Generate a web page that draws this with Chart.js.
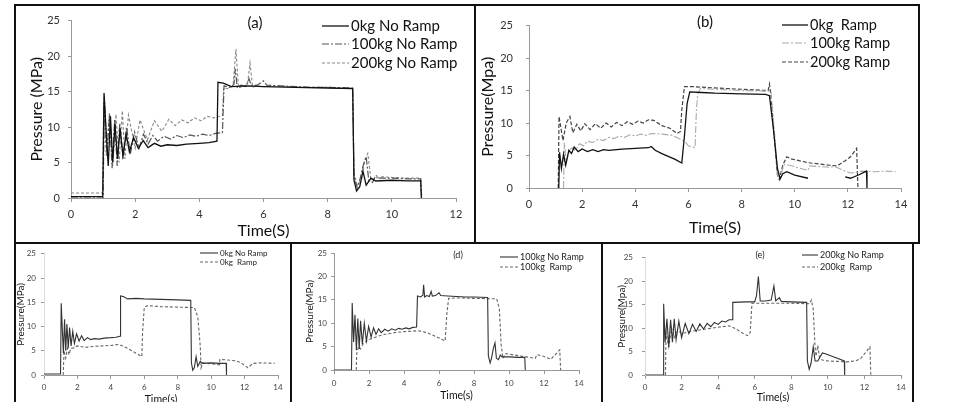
<!DOCTYPE html>
<html><head><meta charset="utf-8">
<script src="https://cdn.jsdelivr.net/npm/chart.js@4"></script>
<style>
html,body{margin:0;padding:0;background:#fff}
body{width:979px;height:402px;overflow:hidden;position:relative;font-family:Lato,sans-serif}
.panel{position:absolute;border:2px solid #111;box-sizing:border-box;overflow:hidden}
.panel canvas{position:absolute;left:0;top:0}
</style></head><body>
<div class="panel" style="left:14px;top:4px;width:462px;height:240px"><canvas id="ca"></canvas></div>
<div class="panel" style="left:474px;top:4px;width:446px;height:240px"><canvas id="cb"></canvas></div>
<div class="panel" style="left:14px;top:242px;width:278px;height:172px"><canvas id="cc"></canvas></div>
<div class="panel" style="left:290px;top:242px;width:313px;height:172px"><canvas id="cd"></canvas></div>
<div class="panel" style="left:601px;top:242px;width:313px;height:172px"><canvas id="ce"></canvas></div>
<script>
// ---------------- DATA (time s, pressure MPa) ----------------
const xTicksA = [0, 2, 4, 6, 8, 10, 12];
const xTicks14 = [0, 2, 4, 6, 8, 10, 12, 14];
const yTicks = [0, 5, 10, 15, 20, 25];

const legendA = ['0kg No Ramp', '100kg No Ramp', '200kg No Ramp'];
const legendB = ['0kg  Ramp', '100kg Ramp', '200kg Ramp'];
const legendC = ['0kg No Ramp', '0kg  Ramp'];
const legendD = ['100kg No Ramp', '100kg  Ramp'];
const legendE = ['200kg No Ramp', '200kg  Ramp'];

const a0kgNoRamp = [[0,0.2],[0.99,0.2],[1.03,14.8],[1.1,9],[1.16,4.5],[1.23,11.5],[1.3,5],[1.37,10.5],[1.45,5.5],[1.53,9.8],[1.62,6],[1.72,9],[1.82,6.5],[1.95,8.5],[2.1,7],[2.25,8.1],[2.4,7.1],[2.6,7.7],[2.8,7.3],[3.0,7.5],[3.3,7.4],[3.6,7.6],[4.0,7.7],[4.3,7.8],[4.55,8.0],[4.58,16.3],[4.75,16.2],[5.0,15.7],[5.5,15.8],[6.0,15.7],[7,15.6],[8,15.5],[8.78,15.4],[8.82,2.5],[8.9,1.0],[9.0,1.6],[9.1,3.8],[9.2,1.8],[9.35,2.8],[9.5,2.4],[10,2.5],[10.5,2.4],[10.9,2.4],[10.92,0]];
const a100kgNoRamp = [[0,0],[1.0,0],[1.04,14.3],[1.12,6],[1.2,11.8],[1.28,4.2],[1.36,11],[1.44,4.5],[1.52,10.5],[1.62,5.5],[1.73,10],[1.85,6.2],[1.98,9.3],[2.12,7],[2.26,9.0],[2.4,7.6],[2.55,8.8],[2.7,8.0],[2.9,8.7],[3.1,8.3],[3.3,8.8],[3.5,8.5],[3.7,8.9],[3.9,8.7],[4.1,9.0],[4.3,8.8],[4.5,9.1],[4.72,9.2],[4.77,15.8],[4.95,15.6],[5.08,16],[5.12,18.2],[5.18,15.6],[5.3,15.9],[5.45,15.7],[5.55,16.8],[5.62,15.8],[5.8,15.9],[6.0,16.5],[6.1,15.9],[6.5,15.8],[7,15.7],[7.5,15.6],[8,15.6],[8.78,15.5],[8.82,3],[8.92,1.5],[9.0,2.5],[9.1,4.5],[9.2,5.8],[9.28,2.5],[9.4,2.2],[9.5,3.2],[9.6,2.8],[10,2.8],[10.5,2.7],[10.9,2.7],[10.93,0]];
const a200kgNoRamp = [[0,0.7],[0.98,0.7],[1.02,13.5],[1.1,6],[1.2,12],[1.3,4.5],[1.4,11.8],[1.5,5],[1.6,12.3],[1.68,5.5],[1.79,11.7],[2.0,7.0],[2.15,11.0],[2.38,8.2],[2.6,10.9],[2.83,9.4],[3.05,11.1],[3.25,10.2],[3.45,11.0],[3.65,10.6],[3.85,11.3],[4.05,10.9],[4.25,11.5],[4.45,11.3],[4.72,11.6],[4.76,15.5],[4.9,15.4],[5.05,15.8],[5.14,21],[5.22,15.5],[5.4,15.8],[5.5,16],[5.58,19],[5.66,15.6],[5.8,15.8],[6.0,15.7],[6.5,15.8],[7,15.6],[8,15.6],[8.78,15.5],[8.82,3.5],[8.92,1.8],[9.05,2.5],[9.15,5.2],[9.25,6.3],[9.35,2.5],[9.5,2.8],[9.7,3.0],[10,2.9],[10.5,2.8],[10.9,2.8],[10.93,0]];

const b0kgRamp = [[1.12,0],[1.15,5.5],[1.22,3],[1.3,5.2],[1.38,3.5],[1.5,5.8],[1.6,5.3],[1.7,6.3],[1.85,5.6],[2.0,6.0],[2.2,5.6],[2.4,5.9],[2.6,5.6],[2.8,5.9],[3.0,5.8],[3.5,6.0],[4.0,6.1],[4.5,6.2],[4.6,6.4],[4.75,5.8],[5.0,5.3],[5.5,4.4],[5.75,3.85],[5.85,8],[5.95,13],[6.05,14.8],[6.5,14.7],[7,14.6],[8,14.5],[8.9,14.4],[9.05,14.2],[9.2,9],[9.35,3],[9.45,1.4],[9.55,2.2],[9.7,2.5],[10,2.0],[10.5,1.5],[10.5,null],[11.9,1.7],[12.1,1.5],[12.4,2.0],[12.7,2.6],[12.72,0]];
const b100kgRamp = [[1.3,0],[1.33,7],[1.4,4],[1.5,5.5],[1.6,6.2],[1.75,5.8],[1.9,6.8],[2.05,6.5],[2.2,7.2],[2.4,7.0],[2.6,7.5],[2.8,7.3],[3.0,7.8],[3.2,7.6],[3.4,8.0],[3.6,7.8],[3.8,8.2],[4.0,8.0],[4.2,8.3],[4.4,8.1],[4.6,8.4],[5.0,8.3],[5.4,8.1],[5.7,7.5],[5.85,7.2],[6.0,6.5],[6.25,6.2],[6.3,12],[6.35,14.5],[6.45,15.3],[7,15.2],[8,15.0],[9.0,14.9],[9.1,15],[9.25,8],[9.35,2],[9.45,1.6],[9.6,3.6],[9.8,3.5],[10.5,2.7],[10.55,3.4],[11.3,3.2],[11.5,3.3],[11.8,2.8],[12.1,2.3],[12.3,2.4],[12.5,2.6],[13.0,2.5],[13.4,2.6],[13.8,2.5]];
const b200kgRamp = [[1.1,0],[1.13,11],[1.28,7.3],[1.4,10],[1.54,11],[1.65,8.5],[1.8,9.8],[1.95,8.8],[2.1,9.9],[2.3,9.0],[2.5,9.9],[2.7,9.2],[2.9,10.0],[3.1,9.4],[3.3,10.1],[3.5,9.6],[3.7,10.2],[3.9,9.8],[4.1,10.3],[4.3,10.0],[4.5,10.5],[4.7,10.4],[5.0,9.6],[5.3,9.2],[5.57,8.4],[5.7,8.7],[5.75,12],[5.85,15.6],[6.2,15.6],[7,15.4],[8,15.2],[9.0,15.0],[9.05,16],[9.1,14.5],[9.25,7],[9.35,2],[9.42,1.3],[9.55,3.5],[9.7,4.8],[9.85,4.5],[10.5,3.9],[11.3,3.5],[11.6,3.4],[11.9,4.2],[12.1,4.8],[12.33,6.1],[12.38,0]];

const c0kgRamp = [[1.15,0],[1.2,5],[1.3,3.5],[1.4,5.5],[1.5,4.2],[1.6,5.5],[1.8,5.6],[2.0,6],[2.5,5.7],[3,5.9],[3.5,6.0],[4.0,6.1],[4.5,6.3],[4.7,6.0],[5.0,5.5],[5.5,4.5],[5.85,3.8],[5.9,9],[6.0,14],[6.2,14.3],[7,14.1],[8,14.0],[9.0,13.9],[9.2,12],[9.3,8],[9.35,5.8],[9.4,1.5],[9.5,2.5],[10.0,2.3],[10.5,2.1],[10.52,3.2],[11.0,3.1],[11.5,2.9],[11.8,2.5],[12.2,1.5],[12.5,2.4],[13.0,2.5],[13.8,2.4]];
const d100kgRamp = [[1.27,0],[1.3,3.5],[1.4,5],[1.5,4.5],[1.7,5.8],[2.0,6.5],[2.5,7.2],[3.0,7.7],[3.5,8.0],[4.0,8.2],[4.5,8.3],[4.8,8.4],[5.3,8.0],[5.8,7.2],[6.35,6.2],[6.45,12],[6.55,15.3],[7,15.4],[8,15.3],[9.3,15.2],[9.45,13],[9.55,5.5],[9.65,2.5],[9.8,3.5],[10.3,3.2],[11.0,2.8],[11.5,2.5],[11.6,3.3],[12.0,2.9],[12.4,2.3],[12.9,4.3],[12.95,0]];
const e200kgNoRamp = [[0,0],[1.0,0],[1.02,15.2],[1.1,7],[1.2,12],[1.3,6],[1.4,11.8],[1.5,7],[1.6,12],[1.7,7.5],[1.85,11.5],[2.0,8],[2.2,11],[2.4,8.8],[2.6,10.8],[2.8,9.3],[3.0,10.9],[3.2,9.8],[3.4,11],[3.6,10.3],[3.8,11.2],[4.0,10.8],[4.2,11.5],[4.4,11.3],[4.6,11.8],[4.78,11.8],[4.8,15.5],[5.5,15.6],[6.0,15.6],[6.1,17],[6.2,21],[6.3,15.8],[6.6,15.8],[6.9,16],[7.05,19],[7.15,15.8],[7.35,16.5],[7.45,15.7],[8.0,15.6],[8.84,15.5],[8.88,3],[8.98,1.2],[9.08,2.5],[9.2,6],[9.3,3],[9.45,3],[9.7,4.7],[9.9,4.5],[10.3,3.9],[10.9,3.0],[10.92,0]];
const e200kgRamp = [[1.12,0],[1.15,9],[1.3,6],[1.45,10],[1.6,8],[1.8,9.5],[2.0,8.8],[2.5,9.3],[3,9.6],[3.5,9.9],[4,10.2],[4.6,10.5],[5.0,9.8],[5.3,9.0],[5.6,8.4],[5.75,9],[5.85,15.3],[7,15.3],[8,15.3],[9.0,15.2],[9.1,16],[9.2,14],[9.3,6],[9.35,4],[9.45,6.3],[9.55,3.5],[9.7,3.2],[10,3.0],[10.5,2.9],[11,2.8],[11.5,3.0],[11.8,3.5],[12.1,5],[12.3,6],[12.35,0]];

// ---------------- RENDERING ----------------
const toXY = arr => arr.map(([x, y]) => ({x, y}));

const annotate = {
  id: 'annotate',
  afterDraw(chart, args, o) {
    const ctx = chart.ctx;
    ctx.save();
    ctx.textBaseline = 'middle';
    ctx.font = o.size + 'px Lato';
    chart.data.datasets.forEach((ds, i) => {
      const y = o.rows[i];
      ctx.strokeStyle = ds.borderColor;
      ctx.lineWidth = ds.borderWidth;
      ctx.setLineDash(ds.borderDash || []);
      ctx.beginPath(); ctx.moveTo(o.x0, y); ctx.lineTo(o.x1, y); ctx.stroke();
      ctx.setLineDash([]);
      ctx.fillStyle = o.color;
      ctx.textAlign = 'left';
      ctx.fillText(ds.label, o.tx, y);
    });
    if (o.tag) {
      ctx.font = o.tagSize + 'px Lato';
      ctx.textAlign = 'center';
      ctx.fillStyle = o.color;
      ctx.fillText(o.tag, o.tagX, o.tagY);
    }
    ctx.restore();
  }
};

function make(id, cfg) {
  const cv = document.getElementById(id);
  cv.width = cfg.w; cv.height = cfg.h;
  cv.style.width = cfg.w + 'px'; cv.style.height = cfg.h + 'px';
  const p = cfg.plot;
  return new Chart(cv, {
    type: 'line',
    data: {
      datasets: cfg.series.map((s, i) => ({
        label: cfg.labels[i],
        data: toXY(s),
        borderColor: cfg.styles[i].color,
        borderDash: cfg.styles[i].dash,
        borderWidth: cfg.styles[i].width,
        pointRadius: 0, tension: 0, fill: false, spanGaps: false
      }))
    },
    options: {
      responsive: false, animation: false, devicePixelRatio: 1,
      layout: {padding: {left: 0, top: p.t, right: cfg.w - p.r, bottom: 0}},
      plugins: {
        legend: {display: false}, tooltip: {enabled: false},
        annotate: cfg.ann
      },
      scales: {
        x: {
          type: 'linear', min: 0, max: cfg.xTicks[cfg.xTicks.length - 1],
          afterBuildTicks: s => { s.ticks = cfg.xTicks.map(v => ({value: v})); },
          afterFit: s => { s.height = cfg.h - p.b; },
          ticks: {font: {family: 'Lato', size: cfg.tickSize}, color: cfg.tickColor, padding: cfg.xPad, maxRotation: 0},
          grid: {drawOnChartArea: false, drawTicks: true, tickLength: 4, color: '#999'},
          border: {display: true, color: '#999', width: 1},
          title: {display: true, text: cfg.xTitle, font: {family: 'Lato', size: cfg.xTitleSize, lineHeight: 1}, color: '#111', padding: {top: 0, bottom: cfg.xTitlePad}}
        },
        y: {
          type: 'linear', min: 0, max: 25,
          afterBuildTicks: s => { s.ticks = yTicks.map(v => ({value: v})); },
          afterFit: s => { s.width = p.l; },
          ticks: {font: {family: 'Lato', size: cfg.tickSize}, color: cfg.tickColor, padding: cfg.yPad},
          grid: {drawOnChartArea: false, drawTicks: true, tickLength: 3, color: '#999'},
          border: {display: true, color: cfg.yAxisColor || '#999', width: 1},
          title: {display: true, text: cfg.yTitle, font: {family: 'Lato', size: cfg.yTitleSize, lineHeight: 1}, color: '#111', padding: {top: cfg.yTitlePad, bottom: 0}}
        }
      }
    },
    plugins: [annotate]
  });
}

const stA = [{color: '#111', dash: [], width: 1.3}, {color: '#555', dash: [7, 2, 2, 2], width: 1.2}, {color: '#888', dash: [3, 2], width: 1.1}];
const stB = [{color: '#111', dash: [], width: 1.3}, {color: '#aaa', dash: [7, 2, 2, 2], width: 1.1}, {color: '#444', dash: [4, 2], width: 1.2}];
const stS = [{color: '#333', dash: [], width: 1.1}, {color: '#666', dash: [3, 2], width: 1.1}];

make('ca', {
  w: 458, h: 236, plot: {l: 55, t: 11, r: 440, b: 192},
  series: [a0kgNoRamp, a100kgNoRamp, a200kgNoRamp], labels: legendA, styles: stA,
  xTicks: xTicksA, tickSize: 11, tickColor: '#333', xPad: 6, yPad: 8,
  xTitle: 'Time(S)', xTitleSize: 16, xTitlePad: 3,
  yTitle: 'Pressure (MPa)', yTitleSize: 16, yTitlePad: 13,
  ann: {rows: [20, 38, 57], x0: 306, x1: 333, tx: 335, size: 15, color: '#111', tag: '(a)', tagX: 239, tagY: 17, tagSize: 15}
});
make('cb', {
  w: 442, h: 236, plot: {l: 53, t: 11, r: 425, b: 182},
  series: [b0kgRamp, b100kgRamp, b200kgRamp], labels: legendB, styles: stB,
  xTicks: xTicks14, tickSize: 11, tickColor: '#333', xPad: 6, yPad: 13,
  xTitle: 'Time(S)', xTitleSize: 16, xTitlePad: 6,
  yTitle: 'Pressure(Mpa)', yTitleSize: 16, yTitlePad: 4,
  ann: {rows: [19, 37, 56], x0: 306, x1: 332, tx: 334, size: 14.5, color: '#111', tag: '(b)', tagX: 229, tagY: 16, tagSize: 15}
});
make('cc', {
  w: 274, h: 168, plot: {l: 28, t: 7, r: 262, b: 131},
  series: [a0kgNoRamp, c0kgRamp], labels: legendC, styles: stS,
  xTicks: xTicks14, tickSize: 8, tickColor: '#444', xPad: 4, yPad: 5,
  xTitle: 'Time(s)', xTitleSize: 10.5, xTitlePad: 7,
  yTitle: 'Pressure(MPa)', yTitleSize: 10, yTitlePad: 0, yAxisColor: '#ddd',
  ann: {rows: [9, 18], x0: 184, x1: 202, tx: 204, size: 8, color: '#222'}
});
make('cd', {
  w: 309, h: 168, plot: {l: 42, t: 9, r: 287, b: 126},
  series: [a100kgNoRamp, d100kgRamp], labels: legendD, styles: stS,
  xTicks: xTicks14, tickSize: 8, tickColor: '#444', xPad: 5, yPad: 4,
  xTitle: 'Time(s)', xTitleSize: 10.5, xTitlePad: 11,
  yTitle: 'Pressure(MPa)', yTitleSize: 10, yTitlePad: 13,
  ann: {rows: [13, 23], x0: 208, x1: 226, tx: 228, size: 9, color: '#222', tag: '(d)', tagX: 166, tagY: 11, tagSize: 9}
});
make('ce', {
  w: 309, h: 168, plot: {l: 42, t: 9, r: 298, b: 131},
  series: [e200kgNoRamp, e200kgRamp], labels: legendE, styles: stS,
  xTicks: xTicks14, tickSize: 8, tickColor: '#444', xPad: 4, yPad: 9,
  xTitle: 'Time(s)', xTitleSize: 10.5, xTitlePad: 9,
  yTitle: 'Pressure(Mpa)', yTitleSize: 10, yTitlePad: 14, yAxisColor: '#ddd',
  ann: {rows: [11, 23], x0: 199, x1: 215, tx: 217, size: 9, color: '#222', tag: '(e)', tagX: 157, tagY: 11, tagSize: 9}
});
</script>
</body></html>
